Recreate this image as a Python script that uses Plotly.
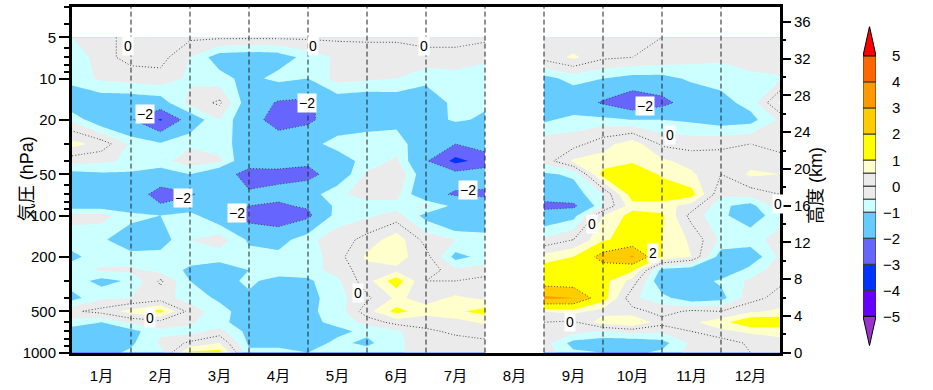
import numpy as np
import plotly.graph_objects as go

# ---------------- data ----------------
# pressure levels (hPa), top to bottom of the chart
pressure = [5, 7, 10, 15, 20, 30, 40, 50, 70, 85, 100, 150, 200, 250, 300, 400, 500, 600, 700, 850, 1000]

# time in pentads (6 per month, 0 = 1 Jan, 72 = 31 Dec); August has no data
pentad_janjul = [0, 3, 6, 9, 12, 15, 18, 21, 24, 27, 30, 33, 36, 39, 42]
pentad_sepdec = [48, 51, 54, 57, 60, 63, 66, 69, 72]

# temperature anomaly (K); one row per pressure level
anom_janjul = [
    [-0.5, -0.1, 0.1, 0.1, 0.1, 0.1, 0.1, 0.1, 0.1, 0.1, 0.1, 0.1, 0.2, 0.2, 0.1],
    [-0.9, -0.2, 0.2, 0.2, -0.5, -1.3, -1.4, -1.3, -0.8, -0.4, -0.3, -0.3, -0.2, -0.2, -0.3],
    [-0.8, -0.4, -0.3, -0.2, -0.6, -0.8, -1.2, -0.8, -1.0, -0.3, -0.4, -0.5, -0.8, -0.7, -1.0],
    [-1.5, -1.4, -1.4, -1.3, -0.3, 0.1, -1.4, -2.1, -2.2, -1.4, -1.5, -1.4, -1.5, -0.8, -0.9],
    [-0.6, -1.5, -1.9, -3.1, -1.5, -0.5, -1.6, -2.4, -2.2, -1.4, -1.3, -1.2, -1.3, -0.9, -1.1],
    [0.7, 0.3, -0.6, -0.9, -0.6, -0.7, -1.4, -1.5, -1.2, -0.8, -0.7, -0.7, -1.5, -2.0, -1.5],
    [-0.3, -0.4, -0.6, -0.7, -0.2, -0.4, -1.6, -1.7, -1.8, -1.3, -0.8, -0.4, -1.9, -3.3, -2.6],
    [-1.2, -1.1, -1.1, -1.3, -1.0, -1.6, -2.3, -2.2, -2.3, -1.5, -0.4, 0.0, -1.5, -1.6, -1.4],
    [-1.4, -1.4, -1.4, -2.4, -2.1, -1.5, -1.9, -1.8, -1.3, -0.6, -0.3, -0.3, -1.7, -2.1, -2.2],
    [-1.3, -1.3, -1.5, -1.9, -1.4, -1.2, -2.0, -2.1, -1.9, -0.8, -0.7, -0.7, -0.4, -1.2, -1.3],
    [-0.3, -0.3, -0.8, -1.0, -0.8, -1.5, -2.4, -2.6, -2.2, -0.7, -0.6, -0.3, -1.2, -1.9, -2.0],
    [-0.8, -0.9, -1.4, -1.3, -0.5, -0.2, -1.1, -1.3, -0.6, -0.3, 0.2, 0.8, -0.2, -0.5, -0.6],
    [-1.1, -0.8, -0.8, -0.8, -0.8, -0.8, -0.8, -0.8, -0.8, -0.2, 0.6, 0.7, 0.2, -1.2, -0.8],
    [-0.8, -0.4, -0.4, -0.7, -1.1, -1.3, -1.0, -0.7, -0.7, -0.3, 0.3, 0.4, 0.4, -0.4, -0.3],
    [-0.7, -1.2, -0.9, 0.1, -1.0, -1.2, -0.9, -1.2, -1.1, -0.6, 0.3, 1.3, 0.0, 0.0, 0.2],
    [-1.2, -0.6, -0.5, -0.3, -0.7, -1.1, -1.1, -1.3, -1.2, -0.7, -0.1, 0.6, 0.3, 0.6, 0.4],
    [-0.1, 0.2, 0.7, 1.2, -0.2, -0.8, -1.3, -1.3, -1.1, -0.8, 0.3, 1.2, 0.7, 0.9, 1.2],
    [-0.7, -1.0, -0.4, -0.2, -0.4, -0.9, -1.2, -1.3, -1.1, -0.9, -0.3, 0.2, 0.2, 0.3, 0.6],
    [-1.3, -1.4, -1.2, -0.6, -0.7, -0.3, -1.2, -1.2, -1.0, -1.1, -0.9, -0.6, -0.1, 0.1, 0.2],
    [-1.3, -1.3, -1.1, -0.4, 0.1, 0.5, -1.1, -1.2, -1.2, -0.9, -1.1, -0.7, 0.0, -0.2, -0.1],
    [-1.0, -1.2, -0.9, -0.7, 1.1, 1.2, -0.9, -0.8, -1.0, -0.8, -0.8, -0.6, -0.2, -0.3, -0.2],
]
anom_sepdec = [
    [0.0, 0.1, 0.2, 0.1, 0.0, 0.0, -0.1, 0.0, 0.0],
    [0.2, 0.6, 0.1, 0.0, -0.1, -0.3, -0.4, -0.1, 0.0],
    [-1.2, -0.8, -1.0, -1.2, -1.2, -0.9, -0.8, -0.7, -0.6],
    [-1.5, -1.5, -2.1, -2.8, -2.3, -1.5, -1.2, -0.8, 0.6],
    [-1.1, -0.8, -0.8, -1.0, -1.0, -1.1, -1.3, -1.2, -0.4],
    [-0.2, -0.2, 0.3, 0.8, -0.1, -0.2, -0.1, 0.0, -0.2],
    [-0.3, 0.6, 0.7, 0.9, 0.6, 0.3, 0.2, 0.3, 0.2],
    [-1.1, -0.9, 1.2, 1.6, 0.9, 0.6, 0.0, 0.6, 0.5],
    [-1.5, -1.3, -0.5, 1.3, 1.5, 1.2, -0.4, -0.3, 0.0],
    [-2.3, -2.2, -0.5, 0.8, 0.7, 0.3, -0.9, -1.2, -0.2],
    [-1.5, -1.2, 0.5, 1.2, 1.1, -0.2, -0.9, -1.3, -0.7],
    [-0.4, 0.0, 0.9, 1.3, 1.0, 0.4, -0.6, -0.7, -0.3],
    [0.7, 1.0, 2.4, 3.1, 1.0, 0.5, -1.3, -1.4, -0.4],
    [1.3, 1.5, 1.5, 1.1, -1.2, -1.4, -1.5, -0.8, -0.2],
    [1.5, 1.4, 1.2, 0.3, -1.5, -1.3, -0.9, -0.4, -0.1],
    [3.2, 3.0, 1.3, -0.4, -0.8, -1.4, -1.2, -0.2, 0.2],
    [0.5, 0.7, 0.3, 0.2, -0.2, 0.1, 0.0, 0.4, 0.6],
    [0.0, -0.1, 0.8, 1.0, 0.2, 0.4, 0.8, 1.5, 1.4],
    [-0.2, -0.3, -0.6, -0.3, -0.4, 0.0, 0.4, 0.6, 0.7],
    [-0.3, -1.2, -1.3, -1.4, -1.2, -0.4, -0.3, 0.1, 0.3],
    [-0.2, -0.9, -1.0, -1.1, -0.9, -0.3, -0.2, 0.0, 0.2],
]

month_labels = ["1月", "2月", "3月", "4月", "5月", "6月", "7月", "8月", "9月", "10月", "11月", "12月"]
month_centers = [3 + 6 * i for i in range(12)]
month_bounds = [6 * i for i in range(1, 12)]

p_ticks = [5, 10, 20, 50, 100, 200, 500, 1000]
p_minor = [3, 4, 6, 7, 8, 9, 30, 40, 60, 70, 80, 90, 300, 400, 600, 700, 800, 900]
km_ticks = list(range(0, 37, 4))

# colour levels
cb_bounds = [-5, -4, -3, -2, -1, -0.5, 0, 0.5, 1, 2, 3, 4, 5]
cb_colors = ["#6600FF", "#0033FF", "#6666FF", "#66CCFF", "#CCFFFF", "#EBEBEB",
             "#EBEBEB", "#FFFFCC", "#FFFF00", "#FFCC00", "#FF9900", "#FF6600"]
color_below = "#9933CC"
color_above = "#FF0000"

# contour label positions (pentad, hPa, text)
label_pos = [
    (5.7, 5.8, "0"), (24.5, 5.8, "0"), (35.8, 5.8, "0"),
    (7.4, 18, "−2"), (23.9, 15, "−2"), (11.3, 74, "−2"), (16.8, 95, "−2"),
    (40.3, 65, "−2"), (29.1, 366, "0"), (7.9, 562, "0"),
    (58.3, 15.8, "−2"), (60.8, 25.9, "0"), (52.9, 116, "0"), (59.1, 187, "2"),
    (50.6, 600, "0"), (71.8, 82, "0"),
]

# ---------------- layout geometry ----------------
W, H = 933, 390
PL, PR, PT, PB = 72, 780, 7, 360
xdom = [PL / W, PR / W]
ydom = [(H - PB) / H, (H - PT) / H]
FONT = "Liberation Sans, Noto Sans CJK JP, sans-serif"

# stepped colorscale for half-unit contour bands
step = 0.5
levels = np.arange(-5, 5 + step / 2, step)
band_colors = [color_below]
for lo in levels[:-1]:
    mid = lo + step / 2
    for i in range(len(cb_bounds) - 1):
        if cb_bounds[i] <= mid < cb_bounds[i + 1]:
            band_colors.append(cb_colors[i])
            break
band_colors.append(color_above)
n = len(band_colors) - 1
colorscale = []
for k, c in enumerate(band_colors):
    lo = max(0.0, (k - 0.5) / n)
    hi = min(1.0, (k + 0.5) / n)
    colorscale.append([lo, c])
    colorscale.append([hi, c])

fig = go.Figure()

for xs, zs in ((pentad_janjul, anom_janjul), (pentad_sepdec, anom_sepdec)):
    fig.add_trace(go.Contour(
        x=xs, y=pressure, z=zs,
        autocontour=False,
        contours=dict(start=-5, end=5, size=step, coloring="fill", showlines=False),
        colorscale=colorscale, showscale=False, line=dict(width=0, smoothing=0),
        hoverinfo="skip",
    ))
    fig.add_trace(go.Contour(
        x=xs, y=pressure, z=zs,
        autocontour=False,
        contours=dict(start=-4, end=4, size=2, coloring="none"),
        line=dict(color="#444444", width=1, dash="1px,2px", smoothing=0),
        showscale=False, hoverinfo="skip",
    ))

# dummy trace for right axis
fig.add_trace(go.Scatter(x=[0], y=[0], yaxis="y2", mode="markers",
                         marker=dict(opacity=0), hoverinfo="skip", showlegend=False))

# colour bar
fig.add_trace(go.Bar(
    x=[0.5] * (len(cb_bounds) - 1),
    y=list(np.diff(cb_bounds)), base=cb_bounds[:-1], width=1,
    marker=dict(color=cb_colors, line=dict(color="#333333", width=1)),
    xaxis="x3", yaxis="y3", hoverinfo="skip", showlegend=False,
))
tip = 6.128
fig.add_trace(go.Scatter(x=[0, 1, 0.5, 0], y=[5, 5, tip, 5], fill="toself",
                         fillcolor=color_above, line=dict(color="black", width=1),
                         mode="lines", xaxis="x3", yaxis="y3", hoverinfo="skip", showlegend=False))
fig.add_trace(go.Scatter(x=[0, 1, 0.5, 0], y=[-5, -5, -tip, -5], fill="toself",
                         fillcolor=color_below, line=dict(color="black", width=1),
                         mode="lines", xaxis="x3", yaxis="y3", hoverinfo="skip", showlegend=False))

annotations = []
for px, pp, t in label_pos:
    annotations.append(dict(x=px, y=np.log10(pp), xref="x", yref="y", text=t,
                            showarrow=False, bgcolor="white", borderpad=1,
                            font=dict(size=14, color="black", family=FONT)))
for b in cb_bounds:
    if b == int(b):
        lab = str(int(b)).replace("-", "−")
        annotations.append(dict(x=902 / W, y=b, xref="paper", yref="y3", text=lab,
                                xanchor="right", showarrow=False,
                                font=dict(size=15, color="black", family=FONT)))
annotations.append(dict(x=15 / W, y=(H - 183) / H, xref="paper", yref="paper",
                        text="気圧 (hPa)", textangle=-90, showarrow=False,
                        font=dict(size=18, color="black", family=FONT)))
annotations.append(dict(x=828 / W, y=(H - 190) / H, xref="paper", yref="paper",
                        text="高度 (km)", textangle=-90, showarrow=False,
                        font=dict(size=18, color="black", family=FONT)))

shapes = []
for b in month_bounds:
    shapes.append(dict(type="line", xref="x", yref="paper", x0=b, x1=b,
                       y0=ydom[0], y1=ydom[1], layer="above",
                       line=dict(color="#222222", width=1, dash="5px,3px")))

fig.update_layout(
    width=W, height=H, margin=dict(l=0, r=0, t=0, b=0),
    paper_bgcolor="white", plot_bgcolor="white", showlegend=False,
    font=dict(family=FONT, color="black", size=15),
    barmode="overlay",
    xaxis=dict(domain=xdom, range=[0, 72], tickvals=month_centers, ticktext=month_labels,
               ticks="outside", ticklen=7, tickcolor="rgba(0,0,0,0)",
               showgrid=False, zeroline=False, showline=True, linecolor="black",
               linewidth=3, mirror=True, anchor="y", tickfont=dict(size=15)),
    yaxis=dict(domain=ydom, type="log", range=[3, np.log10(3)], anchor="x",
               tickvals=p_ticks, ticktext=[str(v) for v in p_ticks],
               ticks="outside", ticklen=10, tickwidth=1.5, tickcolor="black",
               showgrid=False, zeroline=False, showline=True, linecolor="black",
               linewidth=3, mirror=True, tickfont=dict(size=15),
               minor=dict(tickmode="array", tickvals=p_minor, ticks="outside",
                          ticklen=5, tickwidth=1.5, tickcolor="black", showgrid=False)),
    yaxis2=dict(overlaying="y", side="right", anchor="x", range=[0, 37.65],
                tickvals=km_ticks, ticks="outside", ticklen=10, tickwidth=1.5,
                tickcolor="black", showgrid=False, zeroline=False, showline=False,
                tickfont=dict(size=15),
                minor=dict(dtick=2, ticks="outside", ticklen=5, tickwidth=1.5,
                           tickcolor="black", showgrid=False)),
    xaxis3=dict(domain=[863 / W, 876 / W], range=[0, 1], visible=False, anchor="y3",
                fixedrange=True),
    yaxis3=dict(domain=[(H - 353) / H, (H - 27) / H], range=[-tip, tip], visible=False,
                anchor="x3", fixedrange=True),
    annotations=annotations,
    shapes=shapes,
)

fig.write_html("out.html", config={"displayModeBar": False},
               post_script="document.body.style.margin='0';")
